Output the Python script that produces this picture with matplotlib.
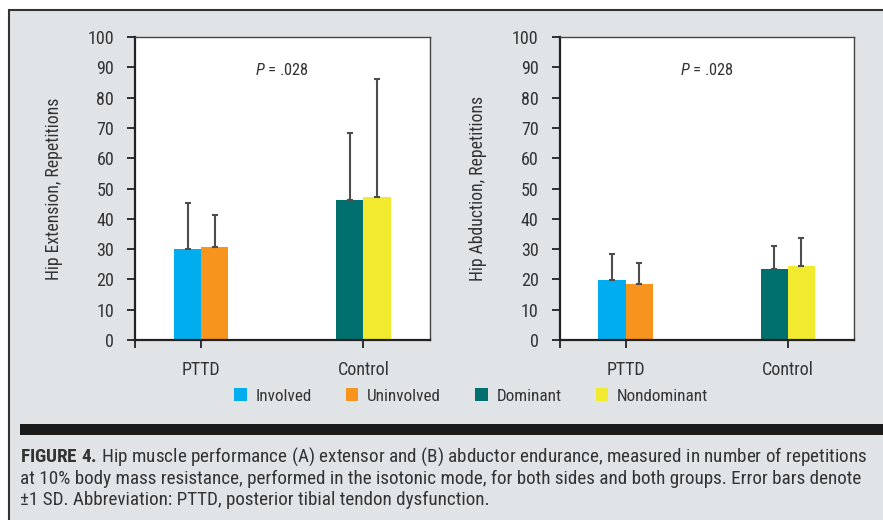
import matplotlib.pyplot as plt
from matplotlib import font_manager
from matplotlib.patches import Patch, Rectangle

# prefer a narrow face if one is installed
family = "Roboto"
for name in ["Roboto Condensed", "Liberation Sans Narrow", "DejaVu Sans Condensed", "Open Sans Condensed"]:
    try:
        font_manager.findfont(name, fallback_to_default=False)
        family = name
        break
    except ValueError:
        pass

plt.rcParams["font.family"] = [family, "DejaVu Sans"]
plt.rcParams["mathtext.fontset"] = "custom"
plt.rcParams["mathtext.rm"] = family
plt.rcParams["mathtext.it"] = family + ":italic"
plt.rcParams["mathtext.bf"] = family + ":bold"

groups = ["PTTD", "Control"]
series = ["Involved", "Uninvolved", "Dominant", "Nondominant"]
colors = ["#00aeef", "#f7941d", "#00706f", "#f2ea2e"]
# which group each series belongs to and its side within the group
series_group = [0, 0, 1, 1]
series_side = [-1, 1, -1, 1]

# mean repetitions and SD per series
extension_mean = [30.0, 30.7, 46.2, 47.2]
extension_sd = [15.2, 10.6, 22.0, 39.1]
abduction_mean = [19.8, 18.6, 23.4, 24.4]
abduction_sd = [8.5, 6.7, 7.6, 9.4]

panels = [
    ("Hip Extension, Repetitions", extension_mean, extension_sd, "$P$ = .028"),
    ("Hip Abduction, Repetitions", abduction_mean, abduction_sd, "$P$ = .028"),
]

caption_lines = [
    r"$\bf{FIGURE\ 4.\,}$Hip muscle performance (A) extensor and (B) abductor endurance, "
    "measured in number of repetitions",
    "at 10% body mass resistance, performed in the isotonic mode, for both sides and both "
    "groups. Error bars denote",
    "±1 SD. Abbreviation: PTTD, posterior tibial tendon dysfunction.",
]

BG = "#e1e4e7"
TEXT = "#333333"
W, H = 883, 520
bar_w = 0.167
x_lo, x_hi = -0.407, 1.407

fig = plt.figure(figsize=(W / 100, H / 100), dpi=100, facecolor="white")

# grey panel behind everything, bordered on top and left
fig.patches.append(Rectangle((9 / W, -0.1), 1.2, 1.1 - 10 / H, transform=fig.transFigure,
                             facecolor=BG, edgecolor="#333333", linewidth=1.5, zorder=-2))
fig.patches.append(Rectangle((20 / W, 1 - 435 / H), 1.2, 11 / H, transform=fig.transFigure,
                             facecolor="#1a1a1a", edgecolor="none", zorder=-1))

axes_left = [135 / W, 559.5 / W]
for (ylabel, means, sds, ptext), left in zip(panels, axes_left):
    ax = fig.add_axes([left, 1 - 340 / H, 294.5 / W, 303 / H])
    ax.set_zorder(1)
    for i, name in enumerate(series):
        x = series_group[i] + series_side[i] * bar_w / 2
        ax.bar(x, means[i], width=bar_w, color=colors[i], zorder=2)
        ax.errorbar(x, means[i], yerr=[[0], [sds[i]]], fmt="none", ecolor="#4d4d4d",
                    elinewidth=1.5, capsize=2.5, capthick=1.5, zorder=3)

    ax.set_xlim(x_lo, x_hi)
    ax.set_ylim(0, 100)
    ax.set_yticks(range(0, 101, 10))
    ax.set_xticks([x_lo, 0, 1])
    ax.set_xticklabels(["", groups[0], groups[1]])
    ax.tick_params(axis="both", direction="out", length=6, width=1.3, colors="#222222",
                   labelcolor=TEXT, labelsize=13)
    ax.tick_params(axis="y", pad=9)
    ax.tick_params(axis="x", pad=9)
    for side in ["left", "bottom"]:
        ax.spines[side].set_linewidth(1.6)
        ax.spines[side].set_color("#222222")
    for side in ["top", "right"]:
        ax.spines[side].set_linewidth(1.0)
        ax.spines[side].set_color("#444444")
    ax.set_ylabel(ylabel, fontsize=12.7, color=TEXT)
    ax.yaxis.set_label_coords(-0.245, 0.5)
    ax.text(0.5, 0.89, ptext, transform=ax.transAxes, ha="center", va="center",
            fontsize=11.8, color=TEXT)

handles = [Patch(facecolor=c, edgecolor="none", label=s) for s, c in zip(series, colors)]
fig.legend(handles=handles, loc="center", bbox_to_anchor=(471 / W, 1 - 396 / H), ncol=4,
           frameon=False, fontsize=12.3, handlelength=0.75, handleheight=0.75,
           handletextpad=0.5, columnspacing=2.0, labelcolor=TEXT)

for k, line in enumerate(caption_lines):
    fig.text(20.5 / W, 1 - (462 + 21.5 * k) / H, line, ha="left", va="baseline",
             fontsize=13.8, color=TEXT)

fig.savefig("out.png", dpi=100, facecolor="white")
